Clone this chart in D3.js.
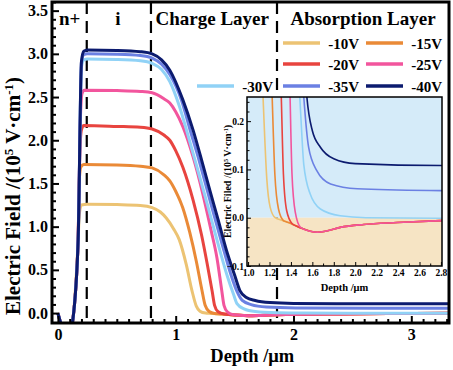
<!DOCTYPE html>
<html>
<head>
<meta charset="utf-8">
<script src="https://cdn.jsdelivr.net/npm/d3@7"></script>
<style>
  body { margin: 0; background: #fff; }
  text { font-family: "Liberation Serif", "Times New Roman", serif; font-weight: bold; fill: #000; }
</style>
</head>
<body>
<svg id="chart" width="453" height="370"></svg>
<script>
// bias voltages and their colours
const voltages = ["-10V", "-15V", "-20V", "-25V", "-30V", "-35V", "-40V"];
const colors = ["#ecc373", "#ea8a37", "#e8443f", "#f2559d", "#90d2f6", "#6b80e3", "#0c1b6f"];

// field profiles [depth µm, E (1e5 V/cm)]
const riseStart = [[0, 0], [0.025, -0.12], [0.06, -0.25], [0.1, -0.25], [0.125, -0.1], [0.172, 0.845]];
const negTail = [[1.30, -0.004], [1.35, -0.008], [1.40, -0.012], [1.45, -0.017], [1.50, -0.022], [1.58, -0.028],
  [1.65, -0.030], [1.72, -0.028], [1.86, -0.020], [2.08, -0.014], [2.39, -0.010], [2.8, -0.006], [3.32, -0.003]];

const e10 = [[0.182, 1.15], [0.2, 1.25], [0.25, 1.26], [0.5, 1.255], [0.7, 1.245], [0.8, 1.22], [0.87, 1.17],
  [0.92, 1.10], [0.98, 0.98], [1.03, 0.85], [1.09, 0.56], [1.138, 0.26], [1.175, 0.08], [1.206, 0.022], [1.253, 0.0]];
const e15 = [[0.18, 1.5], [0.195, 1.69], [0.22, 1.72], [0.5, 1.715], [0.7, 1.70], [0.8, 1.68], [0.9, 1.60],
  [0.95, 1.53], [1.0, 1.41], [1.06, 1.22], [1.12, 0.93], [1.175, 0.60], [1.222, 0.27], [1.25, 0.09], [1.284, 0.018], [1.33, -0.006]];
const e20 = [[0.185, 1.8], [0.2, 2.12], [0.22, 2.17], [0.5, 2.16], [0.7, 2.15], [0.8, 2.13], [0.9, 2.06],
  [0.95, 2.0], [1.0, 1.88], [1.06, 1.69], [1.147, 1.31], [1.22, 0.90], [1.27, 0.55], [1.31, 0.25], [1.33, 0.09],
  [1.36, 0.015], [1.41, -0.012]];
const e25 = [[0.19, 2.2], [0.205, 2.54], [0.225, 2.58], [0.5, 2.575], [0.7, 2.565], [0.8, 2.55], [0.9, 2.48],
  [0.95, 2.43], [1.0, 2.33], [1.06, 2.16], [1.147, 1.81], [1.23, 1.38], [1.30, 0.96], [1.35, 0.64], [1.39, 0.27],
  [1.41, 0.09], [1.44, 0.012], [1.49, -0.02]];
const e30 = [[0.2, 2.85], [0.22, 2.93], [0.25, 2.94], [0.5, 2.935], [0.7, 2.92], [0.8, 2.89], [0.88, 2.82],
  [0.95, 2.68], [1.03, 2.40], [1.1, 2.08], [1.17, 1.74], [1.24, 1.40], [1.31, 1.05], [1.38, 0.70], [1.44, 0.42],
  [1.49, 0.22], [1.52, 0.11], [1.58, 0.049], [1.675, 0.018], [1.86, 0.004], [2.1, 0.0], [2.8, -0.001], [3.32, -0.001]];
const e35 = [[0.2, 2.9], [0.22, 2.99], [0.25, 3.0], [0.5, 2.995], [0.7, 2.98], [0.8, 2.95], [0.88, 2.88],
  [0.95, 2.76], [1.05, 2.46], [1.12, 2.13], [1.2, 1.76], [1.27, 1.41], [1.34, 1.06], [1.41, 0.72], [1.47, 0.44],
  [1.52, 0.25], [1.565, 0.146], [1.64, 0.098], [1.77, 0.07], [2.02, 0.06], [2.8, 0.056], [3.32, 0.055]];
const e40 = [[0.2, 2.91], [0.22, 3.03], [0.25, 3.045], [0.5, 3.04], [0.7, 3.025], [0.8, 3.0], [0.88, 2.93],
  [0.95, 2.81], [1.06, 2.47], [1.147, 2.12], [1.22, 1.77], [1.29, 1.42], [1.36, 1.08], [1.43, 0.73], [1.50, 0.44],
  [1.545, 0.26], [1.6, 0.18], [1.675, 0.146], [1.8, 0.122], [2.0, 0.112], [2.8, 0.108], [3.32, 0.108]];

// layer boundaries and labels
const layerBounds = [0.245, 0.79, 1.86];
const layerNames = ["n+", "i", "Charge Layer", "Absorption Layer"];
const layerLabelX = [0.10, 0.51, 1.31, 2.59];

const xTicks = [0, 1, 2, 3];
const yTicks = [0, 0.5, 1, 1.5, 2, 2.5, 3, 3.5];
const insetXTicks = [1.0, 1.2, 1.4, 1.6, 1.8, 2.0, 2.2, 2.4, 2.6, 2.8];
const insetYTicks = [-0.1, 0, 0.1, 0.2];

function withTails(body, tailFrom) {
  const last = body[body.length - 1][0];
  let pts = riseStart.concat(body);
  if (tailFrom) pts = pts.concat(negTail.filter(d => d[0] > last + 0.01));
  return pts;
}

const series = [
  withTails(e10, true), withTails(e15, true), withTails(e20, true), withTails(e25, true),
  withTails(e30, false), withTails(e35, false), withTails(e40, false)
].map((pts, i) => ({ name: voltages[i], color: colors[i], pts }));

const svg = d3.select("#chart");

// ---------- main plot ----------
const L = 52, R = 449, T = 2, B = 323;
const x = d3.scaleLinear().domain([-0.05, 3.32]).range([L, R]);
const y = d3.scaleLinear().domain([-0.115, 3.6]).range([B, T]);

svg.append("clipPath").attr("id", "mainClip")
  .append("rect").attr("x", L).attr("y", T).attr("width", R - L).attr("height", B - T);

// dashed layer boundaries
svg.append("g").selectAll("line").data(layerBounds).join("line")
  .attr("x1", d => x(d)).attr("x2", d => x(d))
  .attr("y1", T).attr("y2", B)
  .attr("stroke", "#000").attr("stroke-width", 2.2).attr("stroke-dasharray", "12,7");

const line = d3.line().x(d => x(d[0])).y(d => y(d[1])).curve(d3.curveMonotoneX);
svg.append("g").attr("clip-path", "url(#mainClip)")
  .selectAll("path").data(series).join("path")
  .attr("d", d => line(d.pts))
  .attr("fill", "none")
  .attr("stroke", d => d.color)
  .attr("stroke-width", 3)
  .attr("stroke-linejoin", "round");

// axes (ticks point inwards)
const yMinor = d3.range(0, 3.61, 0.1).filter(v => Math.abs(v * 2 - Math.round(v * 2)) > 1e-6);
const xMinor = d3.range(0, 3.31, 0.1).filter(v => Math.abs(v - Math.round(v)) > 1e-6);

const gy = svg.append("g").attr("transform", `translate(${L},0)`)
  .call(d3.axisLeft(y).tickValues(yTicks).tickFormat(d3.format(".1f")).tickSize(-7).tickPadding(4));
svg.append("g").attr("transform", `translate(${L},0)`)
  .call(d3.axisLeft(y).tickValues(yMinor).tickFormat("").tickSize(-4));
const gx = svg.append("g").attr("transform", `translate(0,${B})`)
  .call(d3.axisBottom(x).tickValues(xTicks).tickFormat(d3.format("d")).tickSize(-7).tickPadding(6));
svg.append("g").attr("transform", `translate(0,${B})`)
  .call(d3.axisBottom(x).tickValues(xMinor).tickFormat("").tickSize(-4));
svg.selectAll(".domain").remove();
svg.selectAll(".tick line").attr("stroke", "#000").attr("stroke-width", 2);
gy.selectAll("text").style("font-size", "16px");
gx.selectAll("text").style("font-size", "16px");

svg.append("rect").attr("x", L).attr("y", T).attr("width", R - L).attr("height", B - T)
  .attr("fill", "none").attr("stroke", "#000").attr("stroke-width", 3);

// layer names
svg.append("g").selectAll("text").data(layerNames).join("text")
  .attr("x", (d, i) => x(layerLabelX[i])).attr("y", 25)
  .attr("text-anchor", "middle").style("font-size", "19px")
  .text(d => d);

// axis titles
svg.append("text").attr("x", x(1.65)).attr("y", 362).attr("text-anchor", "middle")
  .style("font-size", "18.5px").text("Depth /μm");
const yt = svg.append("text").attr("transform", "translate(20,196) rotate(-90)")
  .attr("text-anchor", "middle").style("font-size", "21px");
yt.append("tspan").text("Electric Field /(10");
yt.append("tspan").attr("baseline-shift", "super").style("font-size", "13px").text("5");
yt.append("tspan").text(" V·cm");
yt.append("tspan").attr("baseline-shift", "super").style("font-size", "13px").text("-1");
yt.append("tspan").text(")");

// legend
const legendPos = [[283, 43], [366, 43], [283, 64], [366, 64], [197, 86], [283, 86], [366, 86]];
const lg = svg.append("g").selectAll("g").data(series).join("g")
  .attr("transform", (d, i) => `translate(${legendPos[i][0]},${legendPos[i][1]})`);
lg.append("line").attr("x1", 0).attr("x2", 37).attr("stroke", d => d.color).attr("stroke-width", 3.5);
lg.append("text").attr("x", 76).attr("y", 5.5).attr("text-anchor", "end")
  .style("font-size", "15px").text(d => d.name);

// ---------- inset ----------
const iL = 247, iR = 442, iT = 97, iB = 266;
const ix = d3.scaleLinear().domain([0.99, 2.81]).range([iL, iR]);
const iy = d3.scaleLinear().domain([-0.1, 0.25]).range([iB, iT]);

svg.append("rect").attr("x", iL).attr("y", iT).attr("width", iR - iL).attr("height", iy(0) - iT).attr("fill", "#d5ebf9");
svg.append("rect").attr("x", iL).attr("y", iy(0)).attr("width", iR - iL).attr("height", iB - iy(0)).attr("fill", "#f6e4c4");

svg.append("clipPath").attr("id", "insetClip")
  .append("rect").attr("x", iL).attr("y", iT).attr("width", iR - iL).attr("height", iB - iT);
const iline = d3.line().x(d => ix(d[0])).y(d => iy(d[1])).curve(d3.curveMonotoneX);
svg.append("g").attr("clip-path", "url(#insetClip)")
  .selectAll("path").data(series).join("path")
  .attr("d", d => iline(d.pts))
  .attr("fill", "none")
  .attr("stroke", d => d.color)
  .attr("stroke-width", 1.6);

const ixMinor = d3.range(1.1, 2.8, 0.2);
const iyMinor = d3.range(-0.1, 0.25, 0.02).filter(v => Math.abs(v * 10 - Math.round(v * 10)) > 1e-6);
const igx = svg.append("g").attr("transform", `translate(0,${iB})`)
  .call(d3.axisBottom(ix).tickValues(insetXTicks).tickFormat(d3.format(".1f")).tickSize(-4).tickPadding(3));
svg.append("g").attr("transform", `translate(0,${iB})`)
  .call(d3.axisBottom(ix).tickValues(ixMinor).tickFormat("").tickSize(-2.5));
const igy = svg.append("g").attr("transform", `translate(${iL},0)`)
  .call(d3.axisLeft(iy).tickValues(insetYTicks).tickFormat(d3.format(".1f")).tickSize(-4).tickPadding(3));
svg.append("g").attr("transform", `translate(${iL},0)`)
  .call(d3.axisLeft(iy).tickValues(iyMinor).tickFormat("").tickSize(-2.5));
svg.selectAll(".domain").remove();
igx.selectAll("text").style("font-size", "9.5px");
igy.selectAll("text").style("font-size", "9.5px");
svg.selectAll(".tick line").attr("stroke", "#000");

svg.append("rect").attr("x", iL).attr("y", iT).attr("width", iR - iL).attr("height", iB - iT)
  .attr("fill", "none").attr("stroke", "#000").attr("stroke-width", 1.5);

svg.append("text").attr("x", (iL + iR) / 2).attr("y", 291).attr("text-anchor", "middle")
  .style("font-size", "10.5px").text("Depth /μm");
const iyt = svg.append("text").attr("transform", `translate(231,${(iT + iB) / 2}) rotate(-90)`)
  .attr("text-anchor", "middle").style("font-size", "10px");
iyt.append("tspan").text("Electric Filed /(10");
iyt.append("tspan").attr("baseline-shift", "super").style("font-size", "6px").text("5");
iyt.append("tspan").text(" V·cm");
iyt.append("tspan").attr("baseline-shift", "super").style("font-size", "6px").text("-1");
iyt.append("tspan").text(")");
</script>
</body>
</html>
